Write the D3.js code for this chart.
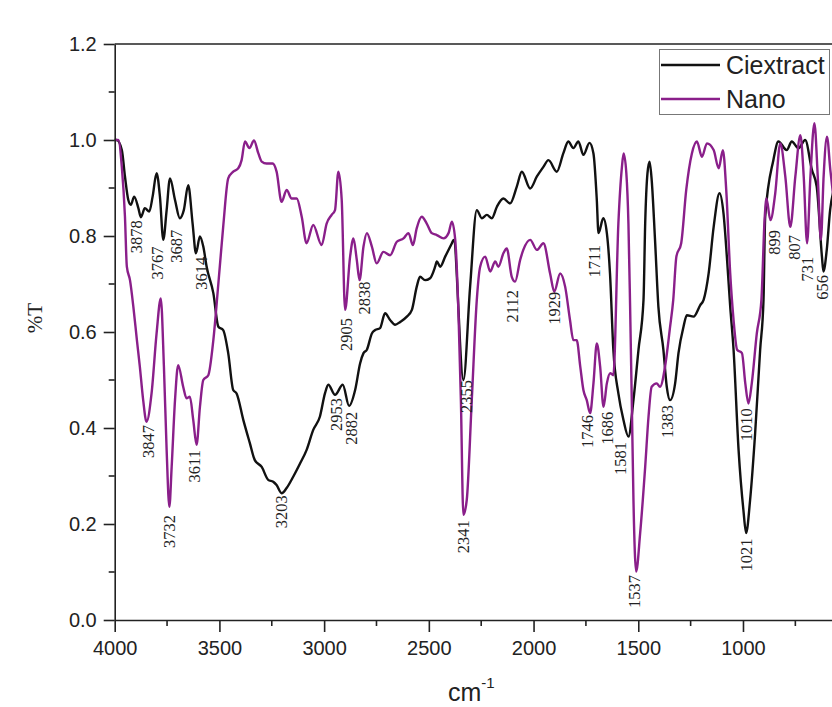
<!DOCTYPE html>
<html>
<head>
<meta charset="utf-8">
<script src="https://cdn.jsdelivr.net/npm/d3@7"></script>
<style>
body { margin: 0; background: #fff; }
svg { display: block; }
</style>
</head>
<body>
<div class="plot"></div>
<script>
// FTIR spectra, [wavenumber cm-1, %T]
var ciextract = [
  [4000,1.0],[3990,1.0],[3966,0.979],[3951,0.924],[3935,0.875],[3923,0.865],[3907,0.882],[3887,0.858],
  [3875,0.839],[3856,0.858],[3835,0.851],[3819,0.882],[3800,0.931],[3784,0.882],[3768,0.792],[3752,0.854],
  [3736,0.920],[3712,0.875],[3689,0.837],[3670,0.854],[3649,0.906],[3628,0.826],[3612,0.764],[3593,0.799],
  [3577,0.778],[3561,0.736],[3529,0.681],[3505,0.611],[3482,0.604],[3458,0.556],[3434,0.479],[3418,0.472],
  [3386,0.417],[3355,0.369],[3331,0.333],[3298,0.319],[3267,0.292],[3243,0.288],[3227,0.281],[3203,0.264],
  [3179,0.275],[3147,0.299],[3115,0.326],[3084,0.354],[3052,0.396],[3020,0.424],[2996,0.472],[2980,0.490],
  [2948,0.469],[2911,0.490],[2881,0.446],[2852,0.479],[2828,0.535],[2812,0.556],[2796,0.563],[2772,0.597],
  [2756,0.604],[2733,0.608],[2709,0.639],[2685,0.625],[2661,0.615],[2637,0.621],[2605,0.632],[2581,0.646],
  [2558,0.694],[2542,0.715],[2518,0.708],[2494,0.712],[2470,0.736],[2462,0.747],[2446,0.736],[2422,0.757],
  [2390,0.785],[2382,0.792],[2335,0.500],[2303,0.694],[2271,0.854],[2247,0.837],[2223,0.844],[2199,0.837],
  [2175,0.861],[2144,0.878],[2112,0.868],[2080,0.903],[2056,0.934],[2016,0.899],[1984,0.924],[1953,0.944],
  [1929,0.958],[1889,0.934],[1858,0.972],[1834,0.997],[1810,0.983],[1786,0.997],[1762,0.969],[1733,0.994],
  [1714,0.972],[1698,0.875],[1690,0.806],[1667,0.837],[1650,0.806],[1635,0.722],[1619,0.563],[1595,0.472],
  [1571,0.417],[1547,0.382],[1523,0.458],[1499,0.563],[1475,0.667],[1467,0.826],[1456,0.931],[1446,0.955],
  [1436,0.917],[1420,0.792],[1404,0.653],[1380,0.563],[1364,0.486],[1348,0.458],[1324,0.493],[1308,0.556],
  [1284,0.611],[1268,0.635],[1236,0.632],[1204,0.656],[1188,0.667],[1164,0.722],[1140,0.819],[1112,0.889],
  [1093,0.847],[1077,0.757],[1061,0.653],[1045,0.563],[1021,0.354],[998,0.229],[985,0.181],[966,0.250],
  [942,0.389],[918,0.563],[902,0.667],[894,0.840],[855,0.958],[831,0.997],[791,0.979],[767,0.997],
  [735,0.983],[703,1.0],[671,0.938],[648,0.903],[623,0.757],[616,0.726],[600,0.771],[584,0.854],
  [565,0.90],[545,0.93]
];

var nano = [
  [4000,1.0],[3983,1.0],[3966,0.944],[3951,0.840],[3942,0.736],[3927,0.708],[3911,0.653],[3894,0.583],
  [3880,0.528],[3864,0.458],[3848,0.413],[3824,0.472],[3800,0.597],[3780,0.670],[3765,0.528],[3752,0.354],
  [3739,0.236],[3728,0.319],[3712,0.458],[3697,0.531],[3673,0.486],[3657,0.462],[3641,0.465],[3625,0.417],
  [3609,0.365],[3593,0.444],[3577,0.500],[3553,0.510],[3529,0.583],[3505,0.701],[3482,0.819],[3458,0.920],
  [3434,0.934],[3410,0.941],[3394,0.958],[3378,0.997],[3357,0.983],[3335,0.999],[3314,0.972],[3298,0.955],
  [3275,0.951],[3246,0.951],[3227,0.934],[3203,0.871],[3179,0.896],[3155,0.878],[3131,0.878],[3107,0.840],
  [3084,0.785],[3052,0.823],[3012,0.781],[2988,0.826],[2964,0.844],[2948,0.854],[2932,0.934],[2916,0.875],
  [2900,0.646],[2876,0.757],[2860,0.795],[2844,0.750],[2831,0.708],[2812,0.778],[2796,0.806],[2772,0.778],
  [2749,0.743],[2717,0.767],[2685,0.760],[2653,0.788],[2621,0.795],[2597,0.806],[2576,0.781],[2558,0.816],
  [2534,0.840],[2510,0.826],[2486,0.806],[2462,0.802],[2430,0.795],[2406,0.806],[2390,0.830],[2374,0.792],
  [2358,0.632],[2347,0.458],[2335,0.219],[2319,0.250],[2295,0.458],[2271,0.667],[2255,0.736],[2231,0.757],
  [2207,0.726],[2183,0.747],[2168,0.736],[2144,0.764],[2128,0.774],[2104,0.715],[2088,0.705],[2064,0.750],
  [2049,0.771],[2016,0.792],[1984,0.771],[1953,0.785],[1921,0.722],[1901,0.684],[1873,0.722],[1849,0.694],
  [1826,0.625],[1810,0.583],[1794,0.583],[1777,0.528],[1762,0.479],[1746,0.458],[1730,0.431],[1714,0.493],
  [1698,0.576],[1682,0.528],[1666,0.444],[1650,0.493],[1634,0.514],[1619,0.510],[1595,0.826],[1578,0.944],
  [1570,0.972],[1557,0.931],[1547,0.826],[1539,0.653],[1531,0.458],[1523,0.250],[1510,0.101],[1491,0.181],
  [1467,0.319],[1451,0.424],[1436,0.486],[1412,0.493],[1396,0.486],[1372,0.528],[1348,0.611],[1333,0.667],
  [1318,0.757],[1295,0.785],[1271,0.896],[1244,0.972],[1220,0.997],[1196,0.965],[1172,0.993],[1140,0.979],
  [1116,0.941],[1096,0.979],[1080,0.896],[1061,0.722],[1045,0.625],[1028,0.563],[1005,0.556],[989,0.493],
  [974,0.451],[958,0.493],[934,0.597],[912,0.667],[897,0.833],[888,0.878],[869,0.833],[846,0.889],
  [822,0.993],[798,0.924],[774,0.819],[750,0.924],[726,1.010],[710,0.924],[694,0.785],[678,0.924],
  [659,1.035],[643,0.924],[628,0.792],[615,0.924],[599,1.007],[583,0.938],[567,0.875]
];

// peak labels: [text, wavenumber position, %T of label top]
var ciPeaks = [
  ["3878",3895,0.833],["3767",3798,0.778],["3687",3707,0.813],["3614",3588,0.757],
  ["3203",3203,0.260],["2953",2941,0.4625],["2882",2869,0.434],["2355",2320,0.500],
  ["1711",1712,0.781],["1581",1587,0.371],["1383",1361,0.448],["1021",983,0.170],
  ["656",620,0.719]
];
var nanoPeaks = [
  ["3847",3839,0.406],["3732",3741,0.219],["3611",3619,0.354],["2905",2896,0.629],
  ["2838",2810,0.705],["2341",2337,0.208],["2112",2101,0.6875],["1929",1903,0.684],
  ["1746",1743,0.427],["1686",1647,0.434],["1537",1521,0.094],["1010",986,0.441],
  ["899",852,0.8125],["807",757,0.802],["731",692,0.757]
];

var seriesNames = ["Ciextract", "Nano"];
var seriesColors = ["#111111", "#8a1f8a"];
var xTicks = [4000, 3500, 3000, 2500, 2000, 1500, 1000];
var xMinor = [3750, 3250, 2750, 2250, 1750, 1250, 750];
var yTicks = [0, 0.2, 0.4, 0.6, 0.8, 1.0, 1.2];
var yMinor = [0.1, 0.3, 0.5, 0.7, 0.9, 1.1];

var width = 832,
    height = 707;

var x = d3.scaleLinear().domain([4000, 500]).range([114.7, 847.7]);
var y = d3.scaleLinear().domain([0, 1.2]).range([620, 44]);

var svg = d3.select(".plot").append("svg")
    .attr("width", width)
    .attr("height", height)
    .style("font-family", "'Liberation Sans', Arial, sans-serif");

svg.append("rect").attr("width", width).attr("height", height).attr("fill", "#fff");

// curves
var line = d3.line()
    .x(function(d) { return x(d[0]); })
    .y(function(d) { return y(d[1]); })
    .curve(d3.curveMonotoneX);

[ciextract, nano].forEach(function(s, i) {
  svg.append("path")
      .datum(s)
      .attr("fill", "none")
      .attr("stroke", seriesColors[i])
      .attr("stroke-width", 2.4)
      .attr("stroke-linejoin", "round")
      .attr("d", line);
});

// axes
var xAxis = svg.append("g")
    .attr("transform", "translate(0," + y(0) + ")")
    .call(d3.axisBottom(x).tickValues(xTicks).tickSize(12).tickPadding(9).tickSizeOuter(0)
      .tickFormat(d3.format("d")));
var yAxis = svg.append("g")
    .attr("transform", "translate(" + x(4000) + ",0)")
    .call(d3.axisLeft(y).tickValues(yTicks).tickSize(11).tickPadding(7).tickSizeOuter(0)
      .tickFormat(d3.format(".1f")));

[xAxis, yAxis].forEach(function(a) {
  a.selectAll("path, line").attr("stroke", "#222").attr("stroke-width", 1.6);
  a.selectAll("text").attr("fill", "#222").style("font-size", "20px")
      .style("font-family", "'Liberation Sans', Arial, sans-serif");
});

svg.append("g").selectAll("line")
    .data(xMinor)
    .enter().append("line")
    .attr("x1", x).attr("x2", x)
    .attr("y1", y(0)).attr("y2", y(0) + 6)
    .attr("stroke", "#222").attr("stroke-width", 1.6);

svg.append("g").selectAll("line")
    .data(yMinor)
    .enter().append("line")
    .attr("x1", x(4000) - 6).attr("x2", x(4000))
    .attr("y1", y).attr("y2", y)
    .attr("stroke", "#222").attr("stroke-width", 1.6);

// top frame
svg.append("line")
    .attr("x1", x(4000)).attr("x2", x(500))
    .attr("y1", y(1.2)).attr("y2", y(1.2))
    .attr("stroke", "#222").attr("stroke-width", 1.6);

// peak labels
function addPeaks(list) {
  svg.append("g").selectAll("text")
      .data(list)
      .enter().append("text")
      .attr("transform", function(d) { return "translate(" + x(d[1]) + "," + y(d[2]) + ") rotate(-90)"; })
      .attr("text-anchor", "end")
      .attr("dy", "0.35em")
      .style("font-family", "'Liberation Serif', 'Times New Roman', serif")
      .style("font-size", "16.5px")
      .attr("fill", "#222")
      .text(function(d) { return d[0]; });
}
addPeaks(ciPeaks);
addPeaks(nanoPeaks);

// axis titles
svg.append("text")
    .attr("transform", "translate(35,318) rotate(-90)")
    .attr("text-anchor", "middle")
    .attr("dy", "0.35em")
    .style("font-family", "'Liberation Serif', 'Times New Roman', serif")
    .style("font-size", "21px")
    .attr("fill", "#222")
    .text("%T");

var xTitle = svg.append("text")
    .attr("x", 448).attr("y", 701)
    .style("font-size", "25px")
    .attr("fill", "#222")
    .text("cm");
xTitle.append("tspan")
    .attr("dy", -13)
    .style("font-size", "15px")
    .text("-1");

// legend
var legend = svg.append("g");
legend.append("rect")
    .attr("x", 659.5).attr("y", 49.5)
    .attr("width", 170).attr("height", 65)
    .attr("fill", "#fff")
    .attr("stroke", "#777").attr("stroke-width", 1);

var item = legend.selectAll(".item")
    .data(seriesNames)
    .enter().append("g")
    .attr("class", "item")
    .attr("transform", function(d, i) { return "translate(0," + (65 + i * 34) + ")"; });

item.append("line")
    .attr("x1", 661).attr("x2", 720)
    .attr("stroke", function(d, i) { return seriesColors[i]; })
    .attr("stroke-width", 2.4);

item.append("text")
    .attr("x", 726)
    .attr("dy", "0.36em")
    .style("font-size", "25px")
    .attr("fill", "#222")
    .text(function(d) { return d; });
</script>
</body>
</html>
